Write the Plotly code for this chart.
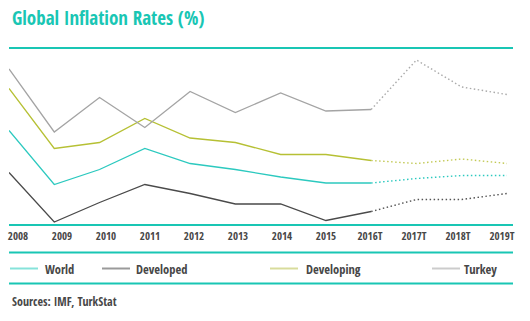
import plotly.graph_objects as go

# ---------------- data ----------------
years = ["2008", "2009", "2010", "2011", "2012", "2013", "2014", "2015",
         "2016T", "2017T", "2018T", "2019T"]
world = [6.2, 2.6, 3.6, 5.0, 4.0, 3.6, 3.1, 2.7, 2.7, 3.0, 3.2, 3.2]
developed = [3.4, 0.1, 1.4, 2.6, 2.0, 1.3, 1.3, 0.2, 0.8, 1.6, 1.6, 2.0]
developing = [9.0, 5.0, 5.4, 7.0, 5.7, 5.4, 4.6, 4.6, 4.2, 4.0, 4.3, 4.0]
turkey = [10.3, 6.1, 8.4, 6.4, 8.8, 7.4, 8.7, 7.5, 7.6, 10.9, 9.1, 8.6]
last_actual = "2016T"

series = [
    ("World", world, "#2cc9bf", "#2cc9bf", "#86e3da"),
    ("Developed", developed, "#4a4a4a", "#555555", "#9a9a9a"),
    ("Developing", developing, "#b6c034", "#c2c955", "#d8dc9c"),
    ("Turkey", turkey, "#a4a4a4", "#aaaaaa", "#cccccc"),
]

W, H = 530, 321
L, R, T, B = 9, 23, 48, 96
PW = W - L - R
PH = H - T - B
TEAL = "#19c6b4"
TXT = "#474747"
FONT = "Open Sans Condensed, Liberation Sans Narrow, DejaVu Sans Condensed, sans-serif"

xi = list(range(len(years)))
k = years.index(last_actual)

fig = go.Figure()
for name, vals, col, pcol, lcol in series:
    fig.add_trace(go.Scatter(x=xi[:k + 1], y=vals[:k + 1], mode="lines",
                             line=dict(color=col, width=1.3),
                             showlegend=False, hoverinfo="skip"))
    fig.add_trace(go.Scatter(x=xi[k:], y=vals[k:], mode="lines",
                             line=dict(color=pcol, width=1.4, dash="1.5px,2.5px"),
                             showlegend=False, hoverinfo="skip"))


def px2x(px):
    return (px - L) / PW


def py2y(py):
    return (H - B - py) / PH


upx = PW / (len(years) - 1)
tick_pos = [(18 + 44.0 * i - L) / upx for i in range(len(years))]

shapes = []
for py in [T, H - B, 252.5, 283.5]:
    shapes.append(dict(type="line", xref="paper", yref="paper",
                       x0=px2x(9), x1=px2x(513), y0=py2y(py), y1=py2y(py),
                       line=dict(color=TEAL, width=2.2)))

legend_items = [(10, 43), (102, 134), (270, 304), (432, 462)]
annotations = []
for (sx, tx), (name, vals, col, pcol, lcol) in zip(legend_items, series):
    shapes.append(dict(type="line", xref="paper", yref="paper",
                       x0=px2x(sx), x1=px2x(sx + 28), y0=py2y(268.5), y1=py2y(268.5),
                       line=dict(color=lcol, width=2)))
    annotations.append(dict(text=name, xref="paper", yref="paper",
                            x=px2x(tx), y=py2y(269.5), xanchor="left", yanchor="middle",
                            showarrow=False,
                            font=dict(family=FONT, size=12.5, color=TXT, weight="bold")))

annotations.append(dict(text="Global Inflation Rates (%)", xref="paper", yref="paper",
                        x=px2x(10), y=py2y(18), xanchor="left", yanchor="middle",
                        showarrow=False,
                        font=dict(family=FONT, size=19, color=TEAL, weight="bold")))
annotations.append(dict(text="Sources: IMF, TurkStat", xref="paper", yref="paper",
                        x=px2x(10), y=py2y(301), xanchor="left", yanchor="middle",
                        showarrow=False,
                        font=dict(family=FONT, size=12, color=TXT, weight="bold")))

fig.update_layout(
    width=W, height=H,
    margin=dict(l=L, r=R, t=T, b=B),
    paper_bgcolor="white", plot_bgcolor="white",
    shapes=shapes, annotations=annotations,
    xaxis=dict(range=[0, len(years) - 1], tickvals=tick_pos, ticktext=years,
               showgrid=False, zeroline=False, showline=False, ticks="",
               ticklabelstandoff=3,
               tickfont=dict(family=FONT, size=11, color=TXT, weight="bold"),
               fixedrange=True),
    yaxis=dict(range=[-0.1, 11.7], showgrid=False, zeroline=False,
               showticklabels=False, showline=False, ticks="", fixedrange=True),
)

fig.write_html("out.html")
